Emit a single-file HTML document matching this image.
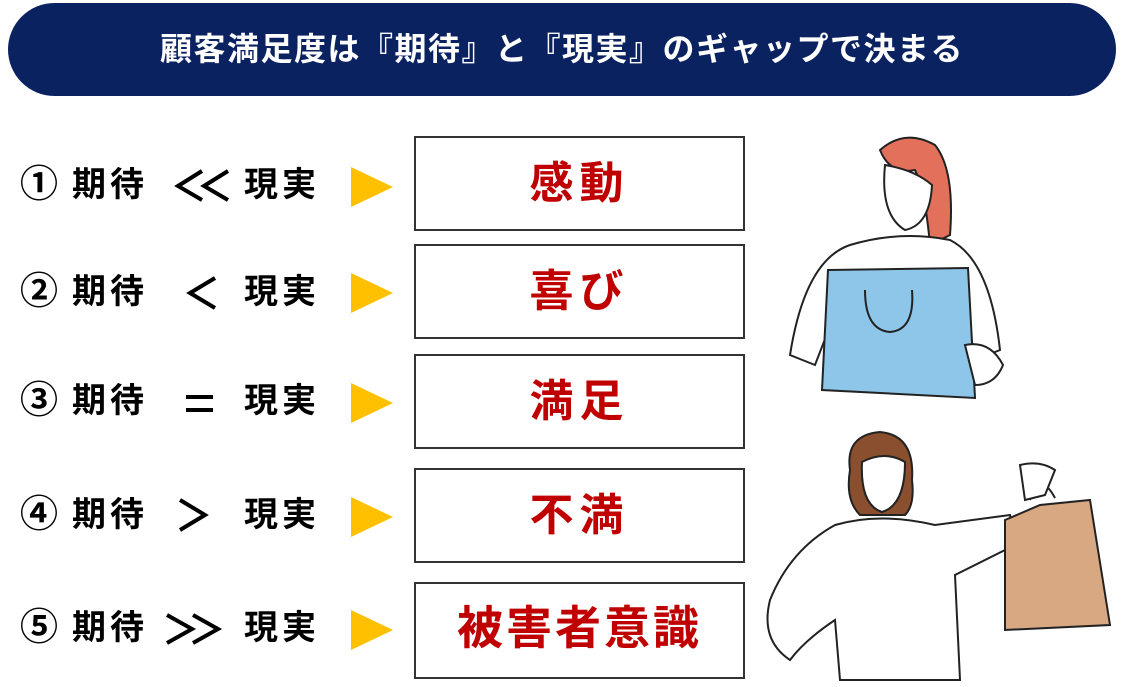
<!DOCTYPE html>
<html><head><meta charset="utf-8"><style>
body{margin:0;width:1128px;height:687px;background:#fff;position:relative;overflow:hidden;font-family:"Liberation Sans","Noto Sans CJK JP",sans-serif;}
.hdr{position:absolute;left:8px;top:3px;width:1108px;height:93px;background:#0b2260;border-radius:47px;color:#fff;font-weight:bold;font-size:32px;letter-spacing:1.5px;text-align:center;line-height:93px;}
.t{position:absolute;font-weight:bold;font-size:34px;letter-spacing:4px;color:#000;line-height:38px;white-space:nowrap;}
.n{position:absolute;font-weight:bold;font-size:38px;color:#000;line-height:38px;}
.box{position:absolute;left:414px;width:327px;border:2px solid #333;background:#fff;color:#c00000;font-weight:bold;font-size:44px;letter-spacing:6px;text-align:center;}
.tri{position:absolute;left:351px;width:0;height:0;border-left:42px solid #ffc000;border-top:20px solid transparent;border-bottom:20px solid transparent;}
svg{position:absolute;left:0;top:0}
</style></head><body>
<div class="hdr">顧客満足度は『期待』と『現実』のギャップで決まる</div>

<div class="box" style="top:136px;height:91px;line-height:91px">感動</div>
<div class="box" style="top:244px;height:91px;line-height:91px">喜び</div>
<div class="box" style="top:354px;height:91px;line-height:91px">満足</div>
<div class="box" style="top:468px;height:91px;line-height:91px">不満</div>
<div class="box" style="top:582px;height:93px;line-height:88px;font-size:46px;letter-spacing:3px">被害者意識</div>

<div class="n" style="left:20px;top:166px">①</div><div class="t" style="left:72px;top:166px">期待</div><div class="t" style="left:244px;top:166px">現実</div><div class="tri" style="top:167px"></div>
<div class="n" style="left:20px;top:273px">②</div><div class="t" style="left:72px;top:273px">期待</div><div class="t" style="left:244px;top:273px">現実</div><div class="tri" style="top:273px"></div>
<div class="n" style="left:20px;top:382px">③</div><div class="t" style="left:72px;top:382px">期待</div><div class="t" style="left:244px;top:382px">現実</div><div class="tri" style="top:383px"></div>
<div class="n" style="left:20px;top:496px">④</div><div class="t" style="left:72px;top:496px">期待</div><div class="t" style="left:244px;top:496px">現実</div><div class="tri" style="top:497px"></div>
<div class="n" style="left:20px;top:609px">⑤</div><div class="t" style="left:72px;top:609px">期待</div><div class="t" style="left:244px;top:609px">現実</div><div class="tri" style="top:610px"></div>

<svg width="1128" height="687" fill="none" stroke="#000" stroke-width="4">
<polyline points="202,171 178,186 202,200"/><polyline points="228,171 204,186 228,200"/>
<polyline points="215,278 190,293 215,308"/>
<line x1="186" y1="397" x2="213" y2="397"/><line x1="186" y1="410" x2="213" y2="410"/>
<polyline points="180,500 205,515 180,530"/>
<polyline points="167,615 192,629 167,643"/><polyline points="193,615 218,629 193,643"/>
<g stroke="#222" stroke-width="2">
<path d="M880,150 Q905,128 935,145 Q955,170 950,235 L930,245 Q925,190 915,170 Q890,175 880,150Z" fill="#e3705a"/>
<path d="M885,165 Q880,215 905,230 Q930,225 932,185 Q915,170 885,165Z" fill="#fff"/>
<path d="M850,245 Q900,230 950,240 Q990,260 1000,350 L975,360 L965,300 L840,300 L815,365 L790,355 Q805,260 850,245Z" fill="#fff"/>
<path d="M828,270 L968,268 L975,398 L822,390Z" fill="#8ec6ea"/>
<path d="M865,290 Q865,330 890,332 Q915,330 912,290"/>
<path d="M965,345 Q990,340 1003,365 Q995,385 975,385Z" fill="#fff"/>
</g>
<g stroke="#222" stroke-width="2">
<path d="M850,470 Q845,435 880,432 Q915,435 912,480 Q915,505 905,515 L860,515 Q845,500 850,470Z" fill="#8a4f2e"/>
<path d="M862,462 Q860,505 882,512 Q905,505 905,462 Q885,450 862,462Z" fill="#fff"/>
<path d="M835,525 Q880,512 935,525 L1010,515 L1015,545 L955,575 L960,680 L840,680 L835,620 Q805,640 790,660 Q760,640 770,600 Q790,550 835,525Z" fill="#fff"/>
<path d="M1005,520 L1040,505 L1090,500 L1110,625 L1005,630Z" fill="#d8a882"/>
<path d="M1030,500 Q1040,470 1055,498"/>
<path d="M1020,465 Q1040,460 1055,470 L1045,495 L1025,500Z" fill="#fff"/>
</g>
</svg>
</body></html>
